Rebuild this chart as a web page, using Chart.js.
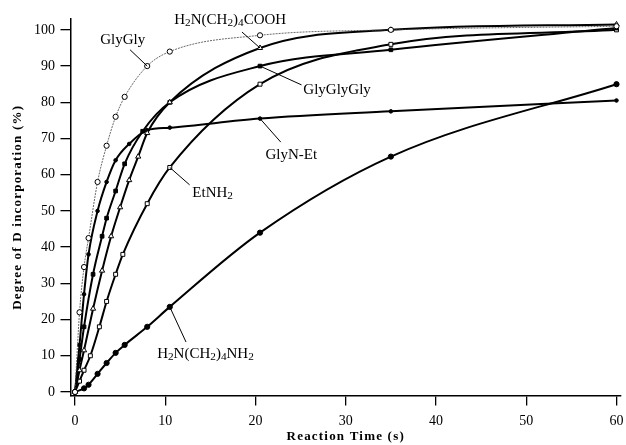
<!DOCTYPE html>
<html>
<head>
<meta charset="utf-8">
<script src="https://cdn.jsdelivr.net/npm/chart.js@4.4.1/dist/chart.umd.min.js"></script>
<style>
  html, body { margin: 0; padding: 0; background: #fff; }
  canvas { display: block; }
</style>
</head>
<body>
<canvas id="chart" width="626" height="445"></canvas>
<script>
// reaction times (s) and degree of D incorporation (%) for each compound
const glyGlyTime = [0, 0.5, 1, 1.5, 2.5, 3.5, 4.5, 5.5, 8, 10.5, 20.5, 35, 60]
const glyGlyValue = [0, 22, 34.5, 42.5, 58, 68, 76, 81.5, 90, 94, 98.5, 100, 101]

const aminoAcidTime = [0, 0.5, 1, 2, 3, 4, 5, 6, 7, 8, 10.5, 20.5, 35, 60]
const aminoAcidValue = [0, 6, 11.5, 23, 33.5, 43, 51, 58.5, 65, 71.5, 80, 95, 100, 101.5]

const triGlyTime = [0, 0.5, 1, 2, 3, 3.5, 4.5, 5.5, 7.5, 10.5, 20.5, 35, 60]
const triGlyValue = [0, 9, 18, 32.5, 43, 48, 55.5, 63, 72, 80, 90, 94.5, 100.5]

const etAmineTime = [0, 0.5, 1, 1.7, 2.7, 3.5, 4.5, 5.3, 8, 10.5, 20.5, 35, 60]
const etAmineValue = [0, 3, 6, 10, 18, 25, 32.5, 38, 52, 62, 85, 96, 100]

const glyEtTime = [0, 0.5, 1, 1.5, 2.5, 3.5, 4.5, 6, 8, 10.5, 20.5, 35, 60]
const glyEtValue = [0, 13, 27, 38, 50, 58, 64, 68.5, 72.3, 73, 75.5, 77.5, 80.5]

const diamineTime = [0, 1, 1.5, 2.5, 3.5, 4.5, 5.5, 8, 10.5, 20.5, 35, 60]
const diamineValue = [0, 1, 2, 5, 8, 10.8, 13, 18, 23.5, 44, 65, 85]

const xTicks = [0, 10, 20, 30, 40, 50, 60]
const yTicks = [0, 10, 20, 30, 40, 50, 60, 70, 80, 90, 100]

const points = (ts, vs) => ts.map((t, i) => ({ x: t, y: vs[i] }))

Chart.defaults.font.family = "'Liberation Serif', 'DejaVu Serif', serif"
Chart.defaults.color = '#000'

const curve = {
    borderColor: '#000',
    borderWidth: 2,
    pointBorderColor: '#000',
    pointBorderWidth: 1,
    cubicInterpolationMode: 'monotone',
    fill: false,
}

const datasets = [
    { ...curve, label: 'GlyGly', data: points(glyGlyTime, glyGlyValue),
      borderColor: '#444', borderWidth: 0.8, borderDash: [2, 1],
      pointStyle: 'circle', pointRadius: 2.6, pointBackgroundColor: '#fff' },
    { ...curve, label: 'H2N(CH2)4COOH', data: points(aminoAcidTime, aminoAcidValue),
      pointStyle: 'triangle', pointRadius: 3, pointBackgroundColor: '#fff' },
    { ...curve, label: 'GlyGlyGly', data: points(triGlyTime, triGlyValue),
      pointStyle: 'rect', pointRadius: 2.6, pointBackgroundColor: '#000' },
    { ...curve, label: 'EtNH2', data: points(etAmineTime, etAmineValue),
      pointStyle: 'rect', pointRadius: 2.8, pointBackgroundColor: '#fff' },
    { ...curve, label: 'GlyN-Et', data: points(glyEtTime, glyEtValue),
      pointStyle: 'circle', pointRadius: 1.8, pointBackgroundColor: '#000' },
    { ...curve, label: 'H2N(CH2)4NH2', data: points(diamineTime, diamineValue),
      pointStyle: 'circle', pointRadius: 2.6, pointBackgroundColor: '#000' },
]

// leader-line labels; digits in the formulas are set as subscripts
const curveLabels = {
    id: 'curveLabels',
    afterDatasetsDraw(chart, args, opts) {
        const { ctx, scales: { x, y } } = chart
        ctx.save()
        ctx.strokeStyle = '#000'
        ctx.lineWidth = 1
        ctx.fillStyle = '#000'
        ctx.textBaseline = 'middle'
        for (const item of opts.items) {
            const pt = chart.getDatasetMeta(item.series).data[item.index]
            ctx.beginPath()
            ctx.moveTo(x.getPixelForValue(item.from[0]), y.getPixelForValue(item.from[1]))
            ctx.lineTo(pt.x, pt.y)
            ctx.stroke()

            let px = x.getPixelForValue(item.at[0])
            const py = y.getPixelForValue(item.at[1])
            const text = chart.data.datasets[item.series].label
            const runs = text.match(/\d+|\D+/g)
            for (const run of runs) {
                const sub = /\d/.test(run)
                ctx.font = `${sub ? opts.size * 0.75 : opts.size}px ${opts.family}`
                ctx.fillText(run, px, sub ? py + 3 : py)
                px += ctx.measureText(run).width
            }
        }
        ctx.restore()
    }
}

// spaced lettering for the axis titles only (tick labels are drawn later, on z 1)
const titleSpacing = {
    id: 'titleSpacing',
    beforeDraw(chart) { chart.ctx.letterSpacing = '1.2px' },
    beforeDatasetsDraw(chart) { chart.ctx.letterSpacing = '0px' },
}

new Chart(document.getElementById('chart'), {
    type: 'line',
    data: { datasets },
    plugins: [titleSpacing, curveLabels],
    options: {
        responsive: false,
        animation: false,
        layout: { padding: { top: 19, right: 1.5, left: 0, bottom: 0 } },
        plugins: {
            legend: { display: false },
            tooltip: { enabled: false },
            curveLabels: {
                size: 15,
                family: "'Liberation Serif', serif",
                items: [
                    { series: 0, index: 8, at: [2.8, 97.2], from: [6.1, 94.5] },
                    { series: 1, index: 11, at: [11.0, 102.8], from: [18.5, 99.4] },
                    { series: 2, index: 10, at: [25.3, 83.4], from: [25.1, 84.8] },
                    { series: 4, index: 10, at: [21.1, 65.5], from: [22.8, 69] },
                    { series: 3, index: 9, at: [13.0, 55], from: [12.7, 57.2] },
                    { series: 5, index: 8, at: [9.1, 10.5], from: [12.3, 13.8] },
                ]
            }
        },
        scales: {
            x: {
                type: 'linear',
                min: -0.5,
                max: 60.5,
                afterFit: s => { s.height = 49.4; s.paddingLeft = 0; s.paddingRight = 0 },
                afterBuildTicks: s => { s.ticks = xTicks.map(v => ({ value: v })) },
                grid: { drawOnChartArea: false, tickLength: 10, color: '#000', lineWidth: 1.3 },
                border: { color: '#000', width: 1.5 },
                ticks: { z: 1, padding: 7, font: { size: 14 }, maxRotation: 0 },
                title: {
                    display: true,
                    text: 'Reaction Time (s)',
                    font: { size: 13, weight: 'bold' },
                    padding: { top: 0, bottom: 0.2 }
                }
            },
            y: {
                min: -1,
                max: 103,
                afterFit: s => { s.width = 70.5; s.paddingTop = 0; s.paddingBottom = 0 },
                afterBuildTicks: s => { s.ticks = yTicks.map(v => ({ value: v })) },
                grid: { drawOnChartArea: false, tickLength: 10, color: '#000', lineWidth: 1.3 },
                border: { color: '#000', width: 1.5 },
                ticks: { z: 1, padding: 5.5, font: { size: 14 } },
                title: {
                    display: true,
                    text: 'Degree of D incorporation (%)',
                    font: { size: 13, weight: 'bold' },
                    padding: { top: 10, bottom: 0 }
                }
            }
        }
    }
})
</script>
</body>
</html>
